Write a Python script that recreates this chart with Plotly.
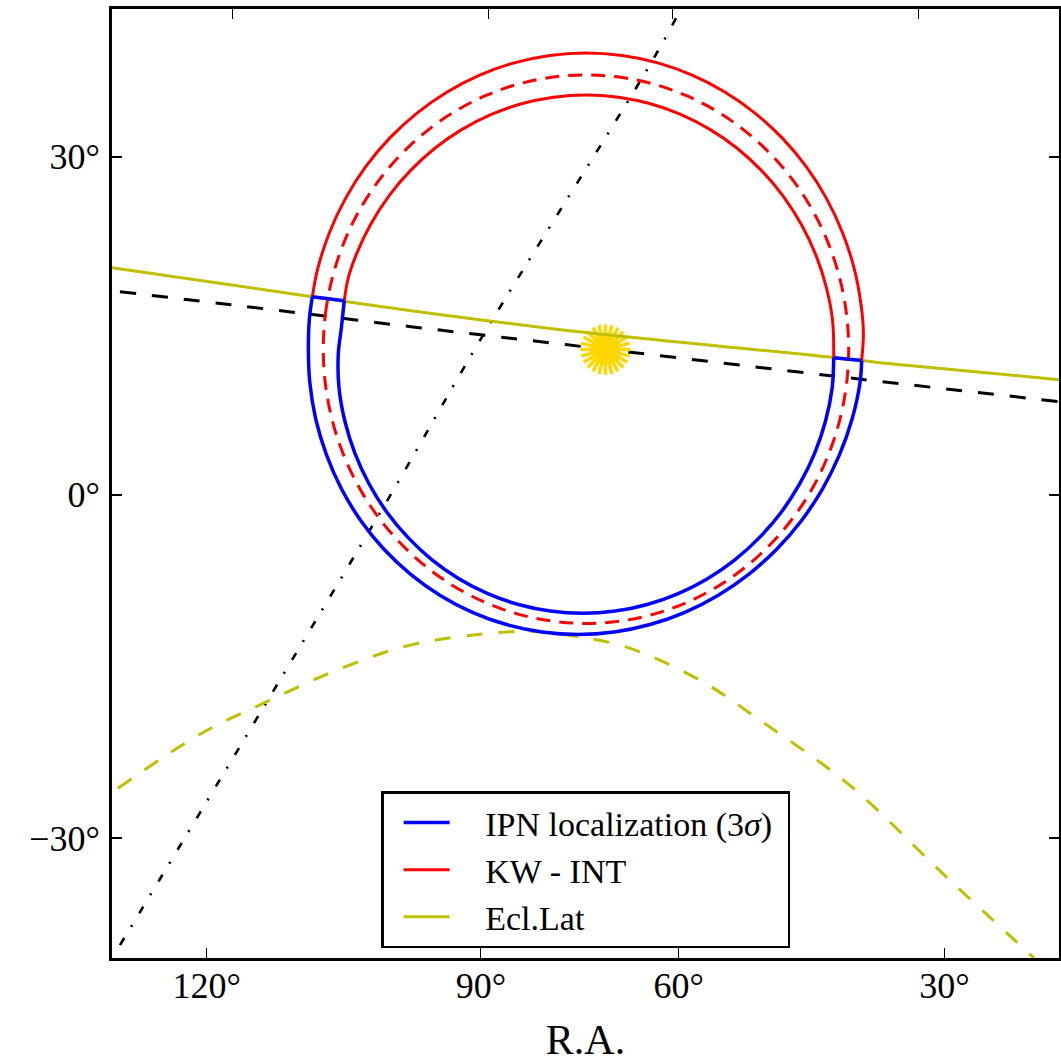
import plotly.graph_objects as go

FONT = "Liberation Serif"

# Projected sky coordinates (degree-like units)
x_range = [131.875, 13.125]
y_range = [-40.88, 42.82]

x_tick_bottom = [120, 85.625, 60.81, 27.5]
x_tick_top = [116.75, 84.625, 61.625, 30.75]
x_labels = ["120°", "90°", "60°", "30°"]
y_ticks = [-30.31, 0, 29.78]
y_labels = ["−30°", "0°", "30°"]

red_outer_x = [106.75, 106.07, 104.6, 102.59, 100.06, 97.06, 93.63, 89.85, 85.76, 81.45, 76.98, 72.44, 67.9,
               63.43, 59.12, 55.03, 51.25, 47.82, 44.82, 42.29, 40.28, 38.81, 37.93, 37.65, 37.875]
red_outer_y = [17.44, 19.94, 23.11, 26.12, 28.91, 31.43, 33.64, 35.5, 36.99, 38.07, 38.72, 38.94, 38.72,
               38.07, 36.99, 35.5, 33.64, 31.43, 28.91, 26.12, 23.11, 19.94, 16.65, 14.2, 11.81]
red_inner_x = [102.75, 102.26, 101.26, 99.45, 97.19, 94.49, 91.43, 88.03, 84.38, 80.52, 76.51, 72.44, 68.37,
               64.36, 60.5, 56.85, 53.45, 50.39, 47.69, 45.43, 43.62, 42.31, 41.52, 41.375]
red_inner_y = [17.09, 19.06, 21.13, 23.81, 26.3, 28.54, 30.52, 32.18, 33.5, 34.46, 35.04, 35.24, 35.04,
               34.46, 33.5, 32.18, 30.52, 28.54, 26.3, 23.81, 21.13, 18.3, 15.36, 12.07]
red_mid_x = [105.38, 105.1, 104.26, 102.87, 100.97, 98.57, 95.73, 92.49, 88.91, 85.05, 80.97, 76.74, 72.44,
             68.14, 63.91, 59.83, 55.97, 52.39, 49.15, 46.31, 43.91, 42.01, 40.62, 39.78, 39.5,
             39.78, 40.62, 42.01, 43.91, 46.31, 49.15, 52.39, 55.97, 59.83, 63.91, 68.14, 72.44,
             76.74, 80.97, 85.05, 88.91, 92.49, 95.73, 98.57, 100.97, 102.87, 104.26, 105.1, 105.38]
red_mid_y = [12.82, 15.98, 19.08, 22.08, 24.92, 27.55, 29.92, 32.01, 33.77, 35.17, 36.19, 36.8, 37.01,
             36.8, 36.19, 35.17, 33.77, 32.01, 29.92, 27.55, 24.92, 22.08, 19.08, 15.98, 12.82,
             9.66, 6.56, 3.56, 0.72, -1.91, -4.28, -6.37, -8.13, -9.53, -10.55, -11.16, -11.37,
             -11.16, -10.55, -9.53, -8.13, -6.37, -4.28, -1.91, 0.72, 3.56, 6.56, 9.66, 12.82]

blue_outer_x = [106.75, 107.12, 107.25, 107.08, 106.33, 104.98, 103.09, 100.67, 97.77, 94.42, 90.72, 86.68, 82.42,
                77.97, 73.44, 68.89, 64.4, 60.04, 55.9, 52.04, 48.53, 45.43, 42.79, 40.66, 39.07, 38.06, 37.875]
blue_outer_y = [17.44, 15.53, 13.3, 9.95, 6.66, 3.49, 0.48, -2.31, -4.83, -7.04, -8.9, -10.39, -11.47,
                -12.12, -12.34, -12.12, -11.47, -10.39, -8.9, -7.04, -4.83, -2.31, 0.48, 3.49, 6.66, 9.95, 11.81]
blue_inner_x = [102.75, 103.1, 103.5, 103.41, 102.67, 101.41, 99.65, 97.43, 94.77, 91.75, 88.38, 84.75, 80.91,
                76.91, 72.84, 68.77, 64.75, 60.87, 57.2, 53.77, 50.67, 47.93, 45.63, 43.77, 42.41, 41.57, 41.375]
blue_inner_y = [17.09, 14.77, 12.38, 9.4, 6.46, 3.63, 0.95, -1.54, -3.78, -5.76, -7.42, -8.74, -9.7,
                -10.28, -10.48, -10.28, -9.7, -8.74, -7.42, -5.76, -3.78, -1.54, 0.95, 3.63, 6.46, 9.4, 12.07]
blue_cap_left_x = [106.75, 102.75]
blue_cap_left_y = [17.44, 17.09]
blue_cap_right_x = [41.375, 37.875]
blue_cap_right_y = [12.07, 11.81]

ecl_x = [131.875, 109.375, 94.375, 75.625, 41.25, 35.625, 13.125]
ecl_y = [20.0, 17.71, 16.21, 14.54, 12.07, 11.63, 10.13]
ecl_dash_x = [131.125, 120.625, 112.875, 103.125, 94.125, 83.125, 79.375, 73.75, 67.25, 58.125, 50.625, 39.375, 27.5, 16.25]
ecl_dash_y = [-25.9, -21.06, -18.41, -15.33, -13.22, -12.16, -12.07, -12.51, -13.48, -16.39, -19.91, -25.64, -33.57, -40.88]
ann_x = [130.875, 108.75, 94.375, 75.0, 37.5, 13.125]
ann_y = [17.89, 16.04, 14.8, 13.22, 10.13, 8.19]
cross_x = [130.875, 112.875, 97.125, 85.375, 64.5, 61.0]
cross_y = [-39.74, -18.77, -0.26, 14.01, 37.8, 42.2]
sun_x = [70.0]
sun_y = [12.78]
sun_angles = [0, 15, 30]

BLUE, RED, OLIVE, GOLD = "#0000ff", "#ff0000", "#bfbf00", "#ffd700"
PAD = "\u2002\u2009\u2009"


def line(x, y, color, name=None, dash="solid", width=3, spline=True, group=None, rank=None):
    return go.Scatter(
        x=x, y=y, mode="lines", name=name or "", showlegend=bool(name),
        legendgroup=group, legendrank=rank or 1000,
        line=dict(color=color, width=width, dash=dash,
                  shape="spline" if spline else "linear", smoothing=1.0),
        hoverinfo="skip",
    )


fig = go.Figure()
fig.add_trace(line(cross_x, cross_y, "black", dash="8px,13px,2px,14px", width=2.6))
fig.add_trace(line(ann_x, ann_y, "black", dash="16px,16px"))
fig.add_trace(go.Scatter(x=sun_x, y=sun_y, mode="markers", showlegend=False,
                         marker=dict(symbol="circle", size=30, color=GOLD), hoverinfo="skip"))
for a in sun_angles:
    fig.add_trace(go.Scatter(x=sun_x, y=sun_y, mode="markers", showlegend=False, hoverinfo="skip",
                             marker=dict(symbol="asterisk-open", size=42, angle=a, color=GOLD,
                                         line=dict(color=GOLD, width=3.5))))
fig.add_trace(line(ecl_dash_x, ecl_dash_y, OLIVE, dash="16px,16px"))
fig.add_trace(line(red_mid_x, red_mid_y, RED, dash="14px,9px"))
fig.add_trace(line(ecl_x, ecl_y, OLIVE, name=PAD + "Ecl.Lat", group="c", rank=3))
fig.add_trace(line(red_outer_x, red_outer_y, RED, name=PAD + "KW - INT", group="b", rank=2))
fig.add_trace(line(red_inner_x, red_inner_y, RED))
fig.add_trace(line(blue_outer_x, blue_outer_y, BLUE, name=PAD + "IPN localization (3<i>σ</i>)\u2009\u200a", group="a", rank=1, width=3.5))
fig.add_trace(line(blue_inner_x, blue_inner_y, BLUE, width=3.5))
fig.add_trace(line(blue_cap_left_x, blue_cap_left_y, BLUE, spline=False, width=3.5))
fig.add_trace(line(blue_cap_right_x, blue_cap_right_y, BLUE, spline=False, width=3.5))
# empty trace that keeps the top tick axis alive
fig.add_trace(go.Scatter(x=[], y=[], xaxis="x2", yaxis="y", showlegend=False, hoverinfo="skip"))

fig.update_layout(
    width=1063, height=1063, autosize=False,
    margin=dict(l=112, r=1, t=9, b=104, pad=0),
    paper_bgcolor="white", plot_bgcolor="white",
    font=dict(family=FONT, color="black", size=36),
    xaxis=dict(
        range=x_range, autorange=False, tickmode="array", tickvals=x_tick_bottom, ticktext=x_labels,
        ticks="inside", ticklen=10, tickwidth=1, tickcolor="black", showgrid=False, zeroline=False,
        showline=True, linecolor="black", linewidth=3, mirror=True, ticklabelstandoff=-6,
        tickfont=dict(family=FONT, size=36), side="bottom",
        title=dict(text="R.A.", font=dict(family=FONT, size=42), standoff=26),
    ),
    xaxis2=dict(
        range=x_range, autorange=False, overlaying="x", anchor="y", side="top", tickmode="array",
        tickvals=x_tick_top, ticktext=["", "", "", ""], ticks="inside", ticklen=10, tickwidth=1,
        tickcolor="black", showgrid=False, zeroline=False, showline=False,
    ),
    yaxis=dict(
        range=y_range, autorange=False, tickmode="array", tickvals=y_ticks, ticktext=y_labels,
        ticks="inside", ticklen=10, tickwidth=1.5, tickcolor="black", showgrid=False, zeroline=False,
        showline=True, linecolor="black", linewidth=3, mirror="ticks", ticklabelstandoff=2,
        tickfont=dict(family=FONT, size=36),
    ),
    legend=dict(
        x=0.2842, y=0.1756, xanchor="left", yanchor="top", bgcolor="white", bordercolor="black",
        borderwidth=2.5, font=dict(family=FONT, size=34, color="black"), itemwidth=46,
        traceorder="grouped", tracegroupgap=0, indentation=15, itemclick=False, itemdoubleclick=False,
    ),
    showlegend=True,
)

fig.write_html(
    "out.html",
    config={"displayModeBar": False},
    post_script="document.body.style.margin='0';document.documentElement.style.overflow='hidden';",
)
